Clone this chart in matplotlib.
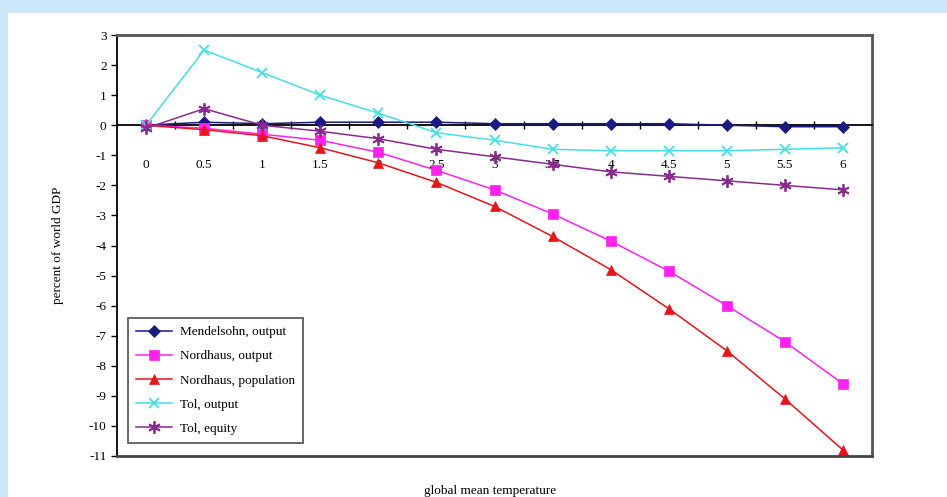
import matplotlib
matplotlib.use('Agg')
import matplotlib.pyplot as plt
from matplotlib.patches import Rectangle
import numpy as np

plt.rcParams['font.family'] = ['Liberation Serif', 'DejaVu Serif']
plt.rcParams['axes.unicode_minus'] = False

temps = ['0', '0.5', '1', '1.5', '2', '2.5', '3', '3.5', '4', '4.5', '5', '5.5', '6']
mendelsohn_output = [0.0, 0.1, 0.05, 0.1, 0.1, 0.1, 0.05, 0.05, 0.05, 0.05, 0.0, -0.05, -0.05]
nordhaus_output = [0.0, -0.1, -0.3, -0.5, -0.9, -1.5, -2.15, -2.95, -3.85, -4.85, -6.0, -7.2, -8.6]
nordhaus_population = [0.0, -0.15, -0.35, -0.75, -1.25, -1.9, -2.7, -3.7, -4.8, -6.1, -7.5, -9.1, -10.8]
tol_output = [0.0, 2.5, 1.75, 1.0, 0.4, -0.25, -0.5, -0.8, -0.85, -0.85, -0.85, -0.8, -0.75]
tol_equity = [-0.1, 0.55, 0.0, -0.2, -0.45, -0.8, -1.05, -1.3, -1.55, -1.7, -1.85, -2.0, -2.15]

series = [
    ('Mendelsohn, output', mendelsohn_output, '#1a1a80', 'D', 6),
    ('Nordhaus, output', nordhaus_output, '#ff22ee', 's', 7),
    ('Nordhaus, population', nordhaus_population, '#e8141c', '^', 7),
    ('Tol, output', tol_output, '#44e0e6', 'x', 7),
    ('Tol, equity', tol_equity, '#8a2a8e', (6, 2, 0), 9),
]

fig = plt.figure(figsize=(9.47, 4.97), dpi=100)
fig.patch.set_facecolor('#cce9fc')
fig.add_artist(Rectangle((8/947, 0), 1, (497-13)/497, transform=fig.transFigure,
                         facecolor='white', edgecolor='none', zorder=-10))

ax = fig.add_axes([117/947, 1-456/497, 755/947, 421/497])
ax.set_zorder(1)
x = np.arange(len(temps))
for name, vals, col, mk, ms in series:
    ax.plot(x, vals, color=col, marker=mk, markersize=ms, linewidth=1.1,
            markeredgewidth=1.3 if mk in ('x', (6, 2, 0)) else 0.5,
            markeredgecolor=col, label=name, zorder=3)

ax.set_xlim(-0.5, len(temps)-0.5)
ax.set_ylim(-11, 3)
ax.set_yticks(np.arange(-11, 4, 1))
ax.tick_params(axis='y', direction='out', length=4, labelsize=9.5, width=1)

ax.spines['bottom'].set_position(('data', 0))
ax.spines['bottom'].set_linewidth(1.3)
ax.spines['left'].set_linewidth(1.3)
for s in ('top', 'right'):
    ax.spines[s].set_color('#555555')
    ax.spines[s].set_linewidth(2)
ax.axhline(-11, color='#444444', linewidth=2, clip_on=False, zorder=5)

ax.set_xticks(x)
ax.set_xticklabels(temps)
ax.set_xticks(x[:-1] + 0.5, minor=True)
ax.tick_params(axis='x', which='major', length=0, pad=24, labelsize=9.5)
ax.tick_params(axis='x', which='minor', direction='inout', length=6, width=1)

ax.set_ylabel('percent of world GDP', fontsize=9.5, labelpad=18)
fig.text(0.517, 0.0, 'global mean temperature', ha='center', va='bottom', fontsize=9.5)

leg = ax.legend(loc='lower left', bbox_to_anchor=(0.006, 0.016), fontsize=9.5,
                frameon=True, fancybox=False, edgecolor='#333333',
                handlelength=2.7, handletextpad=0.6, borderpad=0.6, labelspacing=0.9)
leg.get_frame().set_linewidth(1.3)

fig.savefig('out.png', dpi=100)
